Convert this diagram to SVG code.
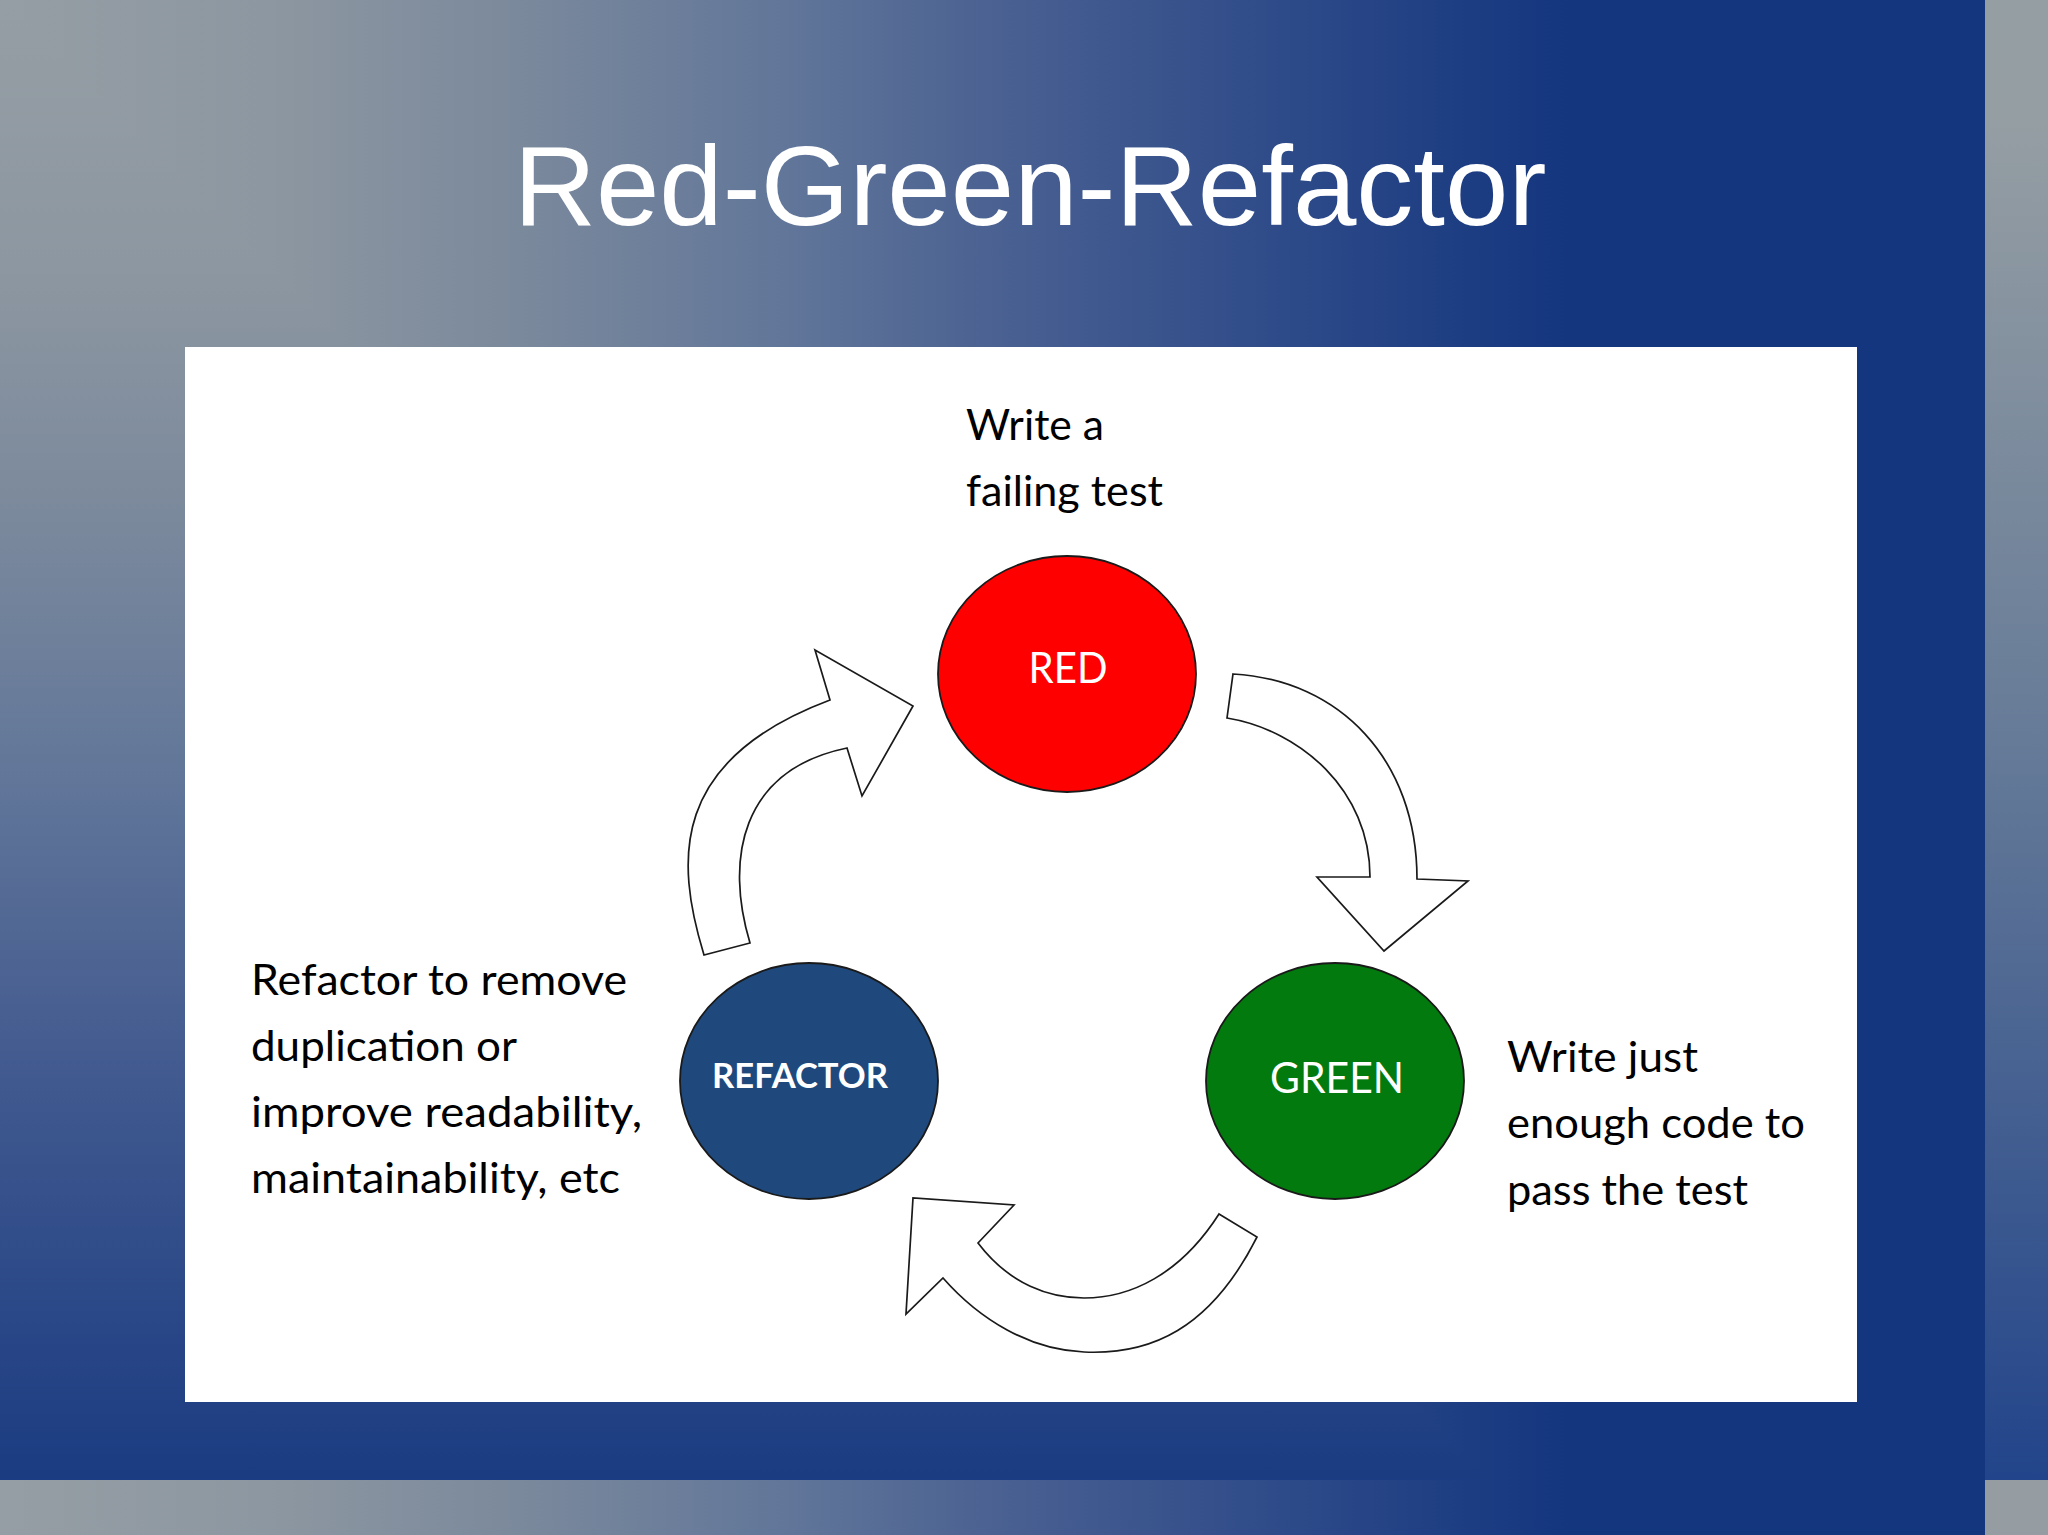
<svg xmlns="http://www.w3.org/2000/svg" width="2048" height="1535" viewBox="0 0 2048 1535">
  <defs>
    <linearGradient id="bgH" gradientUnits="userSpaceOnUse" x1="0" y1="0" x2="1570" y2="0">
      <stop offset="0" stop-color="#959ea4"/>
      <stop offset="0.17" stop-color="#8d97a1"/>
      <stop offset="0.33" stop-color="#7b899c"/>
      <stop offset="0.5" stop-color="#617699"/>
      <stop offset="0.67" stop-color="#445c90"/>
      <stop offset="0.83" stop-color="#2c4988"/>
      <stop offset="1" stop-color="#14367f"/>
    </linearGradient>
    <linearGradient id="bgV" gradientUnits="userSpaceOnUse" x1="0" y1="0" x2="0" y2="1560">
      <stop offset="0" stop-color="#959ea4"/>
      <stop offset="0.17" stop-color="#8d97a1"/>
      <stop offset="0.33" stop-color="#7b899c"/>
      <stop offset="0.5" stop-color="#617699"/>
      <stop offset="0.67" stop-color="#445c90"/>
      <stop offset="0.83" stop-color="#2c4988"/>
      <stop offset="1" stop-color="#14367f"/>
    </linearGradient>
    <linearGradient id="bgRight" gradientUnits="userSpaceOnUse" x1="0" y1="0" x2="0" y2="1480">
      <stop offset="0.08" stop-color="#959ea3"/>
      <stop offset="0.5" stop-color="#667b98"/>
      <stop offset="1" stop-color="#22448a"/>
    </linearGradient>
    <style>
      .arrow { fill: #ffffff; stroke: #1a1a1a; stroke-width: 1.7; stroke-linejoin: miter; }
      .node { stroke: #1a1a1a; stroke-width: 1.8; }
      .nodetext { font-family: "Lato", "Noto Sans", sans-serif; fill: #ffffff; text-anchor: middle; }
      .label { font-family: "Lato", "Noto Sans", sans-serif; font-size: 43px; fill: #000000; }
      .title { font-family: "Liberation Sans", Arial, sans-serif; font-size: 114px; fill: #ffffff; text-anchor: middle; }
    </style>
  </defs>

  <!-- background -->
  <rect x="0" y="0" width="1985" height="1480" fill="url(#bgH)"/>
  <polygon points="0,0 1570,1560 0,1560" fill="url(#bgV)"/>
  <rect x="1985" y="0" width="63" height="1480" fill="url(#bgRight)"/>
  <rect x="0" y="1480" width="1985" height="55" fill="url(#bgH)"/>
  <rect x="1985" y="1480" width="63" height="55" fill="#959ca2"/>

  <!-- title -->
  <text class="title" x="1030" y="225">Red-Green-Refactor</text>

  <!-- white panel -->
  <rect x="185" y="347" width="1672" height="1055" fill="#ffffff"/>

  <!-- connectors -->
  <g id="connectors">
    <path id="arrow-red-green" class="arrow" d="M 1233 674 C 1340 680 1417 760 1417 879 L 1468 881 L 1384 951 L 1317 877 L 1370 877 C 1370 790 1300 730 1227 718 Z"/>
    <path id="arrow-green-refactor" class="arrow" d="M 1219 1214 L 1257 1237 C 1210 1330 1150 1355 1084 1352 C 1030 1350 980 1320 943 1278 L 906 1314 L 913 1198 L 1014 1205 L 978 1243 C 1010 1285 1050 1298 1084 1298 C 1130 1298 1180 1275 1219 1214 Z"/>
    <path id="arrow-refactor-red" class="arrow" d="M 704 955 C 675 860 670 760 830 700 L 815 650 L 913 706 L 862 796 L 847 748 C 740 770 725 860 750 943 Z"/>
  </g>

  <!-- nodes -->
  <g id="node-red">
    <ellipse class="node" cx="1067" cy="674" rx="129" ry="118" fill="#ff0000"/>
    <text class="nodetext" x="1068" y="683" font-size="42" textLength="79" lengthAdjust="spacingAndGlyphs">RED</text>
  </g>
  <g id="node-green">
    <ellipse class="node" cx="1335" cy="1081" rx="129" ry="118" fill="#037a0e"/>
    <text class="nodetext" x="1337" y="1093" font-size="42" textLength="134" lengthAdjust="spacingAndGlyphs">GREEN</text>
  </g>
  <g id="node-refactor">
    <ellipse class="node" cx="809" cy="1081" rx="129" ry="118" fill="#1f497d"/>
    <text class="nodetext" x="800" y="1088" font-size="35" font-weight="bold" textLength="176" lengthAdjust="spacingAndGlyphs">REFACTOR</text>
  </g>

  <!-- labels -->
  <g id="label-red">
    <text class="label" x="966" y="440" textLength="138" lengthAdjust="spacingAndGlyphs">Write a</text>
    <text class="label" x="966" y="506" textLength="197" lengthAdjust="spacingAndGlyphs">failing test</text>
  </g>
  <g id="label-refactor">
    <text class="label" x="251" y="995" textLength="376" lengthAdjust="spacingAndGlyphs">Refactor to remove</text>
    <text class="label" x="251" y="1061" textLength="266" lengthAdjust="spacingAndGlyphs">duplication or</text>
    <text class="label" x="251" y="1127" textLength="391" lengthAdjust="spacingAndGlyphs">improve readability,</text>
    <text class="label" x="251" y="1193" textLength="369" lengthAdjust="spacingAndGlyphs">maintainability, etc</text>
  </g>
  <g id="label-green">
    <text class="label" x="1507" y="1072" textLength="191" lengthAdjust="spacingAndGlyphs">Write just</text>
    <text class="label" x="1507" y="1138" textLength="298" lengthAdjust="spacingAndGlyphs">enough code to</text>
    <text class="label" x="1507" y="1205" textLength="241" lengthAdjust="spacingAndGlyphs">pass the test</text>
  </g>
</svg>
